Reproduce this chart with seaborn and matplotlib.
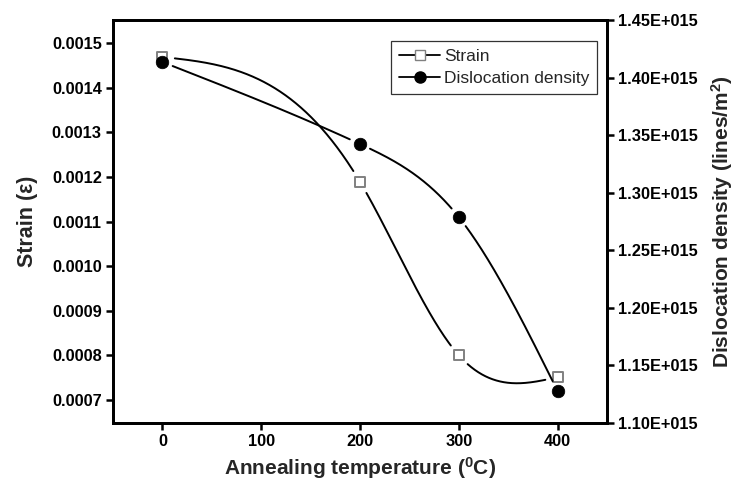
import numpy as np
import pandas as pd
import matplotlib
matplotlib.use("Agg")
import matplotlib.pyplot as plt
import seaborn as sns
from matplotlib.lines import Line2D

# ---- data ----
temperature = [0, 200, 300, 400]
strain = [0.001469, 0.001189, 0.000800, 0.000751]
dislocation = [1.4135e15, 1.3423e15, 1.2788e15, 1.1277e15]
left_ticks = [0.0007, 0.0008, 0.0009, 0.0010, 0.0011, 0.0012, 0.0013, 0.0014, 0.0015]
right_ticks = [1.10e15, 1.15e15, 1.20e15, 1.25e15, 1.30e15, 1.35e15, 1.40e15, 1.45e15]
x_ticks = [0, 100, 200, 300, 400]

FIG_W, FIG_H = 737, 482
AX_POS = [0.1533, 0.1224, 0.6703, 0.8361]
XLIM = (-50, 450)
YLIM_L = (0.000648, 0.001552)
YLIM_R = (1.10e15, 1.45e15)


def natural_spline(x, y, xs):
    x = np.asarray(x, float); y = np.asarray(y, float)
    n = len(x); h = np.diff(x)
    A = np.zeros((n, n)); b = np.zeros(n)
    A[0, 0] = 1; A[-1, -1] = 1
    for i in range(1, n - 1):
        A[i, i - 1] = h[i - 1]; A[i, i] = 2 * (h[i - 1] + h[i]); A[i, i + 1] = h[i]
        b[i] = 6 * ((y[i + 1] - y[i]) / h[i] - (y[i] - y[i - 1]) / h[i - 1])
    M = np.linalg.solve(A, b)
    out = np.empty_like(xs)
    for k, xv in enumerate(xs):
        i = min(max(np.searchsorted(x, xv) - 1, 0), n - 2)
        hi = h[i]; a = x[i + 1] - xv; c = xv - x[i]
        out[k] = (M[i] * a ** 3 + M[i + 1] * c ** 3) / (6 * hi) \
            + (y[i] - M[i] * hi ** 2 / 6) * a / hi + (y[i + 1] - M[i + 1] * hi ** 2 / 6) * c / hi
    return out


def gap_mask(xs, ys, px, py, ylim, r_px):
    """Blank curve samples within r_px pixels of each marker (Origin-style gaps)."""
    wpx = AX_POS[2] * FIG_W; hpx = AX_POS[3] * FIG_H
    sx = lambda v: (np.asarray(v, float) - XLIM[0]) / (XLIM[1] - XLIM[0]) * wpx
    sy = lambda v: (np.asarray(v, float) - ylim[0]) / (ylim[1] - ylim[0]) * hpx
    cx, cy = sx(xs), sy(ys)
    out = np.array(ys, float)
    for mx, my in zip(sx(px), sy(py)):
        out[np.hypot(cx - mx, cy - my) < r_px] = np.nan
    return out


sns.set_theme(style="ticks")
plt.rcParams['font.family'] = ['Liberation Sans', 'DejaVu Sans']
plt.rcParams['mathtext.fontset'] = 'custom'
plt.rcParams['mathtext.rm'] = 'Liberation Sans:bold'
plt.rcParams['mathtext.bf'] = 'Liberation Sans:bold'
plt.rcParams['mathtext.it'] = 'Liberation Sans:bold'

fig = plt.figure(figsize=(FIG_W / 100, FIG_H / 100), dpi=100)
ax = fig.add_axes(AX_POS)
ax2 = ax.twinx()

xs = np.linspace(min(temperature), max(temperature), 2000)
ys_s = gap_mask(xs, natural_spline(temperature, strain, xs), temperature, strain, YLIM_L, 12.5)
ys_d = gap_mask(xs, natural_spline(temperature, dislocation, xs), temperature, dislocation, YLIM_R, 11.0)
pts = pd.DataFrame({"T": temperature, "s": strain, "d": dislocation})

ax.plot(xs, ys_s, color="black", lw=1.4, zorder=2)
ax2.plot(xs, ys_d, color="black", lw=1.4, zorder=2)
sns.scatterplot(data=pts, x="T", y="s", ax=ax, marker="s", s=60, facecolor="white",
                edgecolor="#808080", linewidth=1.4, zorder=4)
sns.scatterplot(data=pts, x="T", y="d", ax=ax2, marker="o", s=82, color="black",
                edgecolor="black", linewidth=0.5, zorder=4)

ax.set_xlim(*XLIM)
ax.set_ylim(*YLIM_L)
ax2.set_ylim(*YLIM_R)
ax.set_xticks(x_ticks)
ax.set_xticklabels([str(t) for t in x_ticks])
ax.set_yticks(left_ticks)
ax.set_yticklabels([f"{v:.4f}" for v in left_ticks])
ax2.set_yticks(right_ticks)
ax2.set_yticklabels([f"{v/1e15:.2f}E+015" for v in right_ticks])

for a in (ax, ax2):
    for sp in a.spines.values():
        sp.set_linewidth(2.0)
        sp.set_color("black")
    a.tick_params(direction="out", length=5, width=1.8, labelsize=11.8, colors="black", pad=3)
    for lab in a.get_xticklabels() + a.get_yticklabels():
        lab.set_fontweight("bold")

ax.set_xlabel(r"Annealing temperature ($^{0}$C)", fontsize=15, fontweight="bold", labelpad=4)
ax.set_ylabel("Strain (ε)", fontsize=15.5, fontweight="bold", labelpad=10)
ax2.set_ylabel(r"Dislocation density (lines/m$^{2}$)", fontsize=15, fontweight="bold", labelpad=8)

handles = [
    Line2D([], [], color="black", lw=1.3, marker="s", markersize=6.5, markerfacecolor="white",
           markeredgecolor="#808080"),
    Line2D([], [], color="black", lw=1.3, marker="o", markersize=8, markerfacecolor="black"),
]
leg = ax2.legend(handles, ["Strain", "Dislocation density"], loc="upper right",
                 bbox_to_anchor=(0.98, 0.948), borderaxespad=0, frameon=True, fancybox=False,
                 fontsize=12.5, handlelength=2.4, handletextpad=0.2, borderpad=0.45,
                 labelspacing=0.4)
leg.get_frame().set_edgecolor("black")
leg.get_frame().set_linewidth(0.9)

fig.savefig("out.png", dpi=100)
